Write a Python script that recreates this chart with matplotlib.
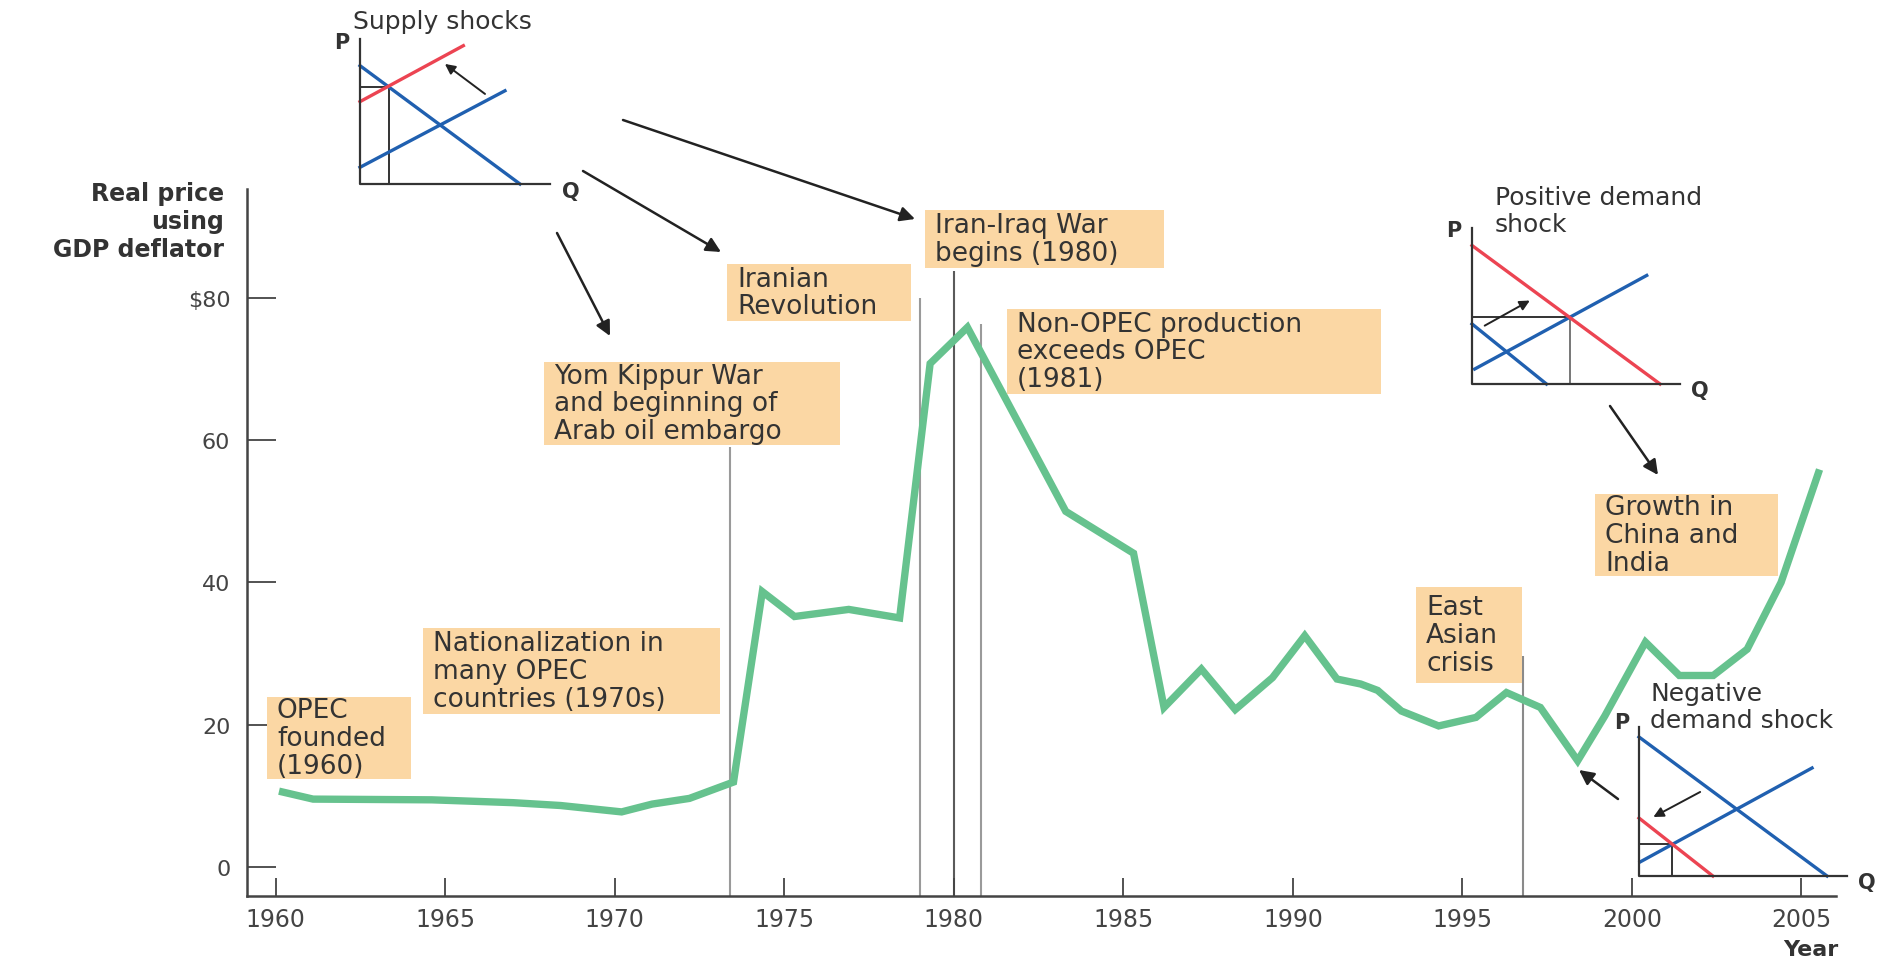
import matplotlib.pyplot as plt
from matplotlib.patches import Rectangle

plt.rcParams['font.family'] = ['DejaVu Sans']

W, H = 1900, 962

# real oil price (GDP deflator)
years = [1960.2, 1961.1, 1964.6, 1967.0, 1968.4, 1970.2, 1971.1, 1972.2, 1973.5,
         1974.35, 1975.3, 1976.9, 1978.4, 1979.3, 1980.4, 1983.3, 1985.3, 1986.2,
         1987.3, 1988.3, 1989.4, 1990.35, 1991.3, 1992.0, 1992.5, 1993.2, 1994.3,
         1995.4, 1996.3, 1997.3, 1998.4, 1999.2, 2000.4, 2001.4, 2002.4, 2003.4,
         2004.4, 2005.5]
price = [10.5, 9.5, 9.4, 9.0, 8.6, 7.7, 8.8, 9.6, 11.9,
         38.7, 35.2, 36.2, 35.0, 70.8, 75.9, 50.0, 44.1, 22.4,
         27.8, 22.1, 26.6, 32.5, 26.4, 25.7, 24.8, 21.9, 19.8,
         21.0, 24.5, 22.4, 14.9, 21.2, 31.6, 26.9, 26.9, 30.6,
         40.0, 55.4]

# event marker lines: year and how high each one reaches
event_years = [1973.4, 1979.0, 1980.0, 1980.8, 1996.8]
event_tops = [59.0, 80.0, 83.8, 76.4, 29.7]
event_colors = ['#9a9a9a', '#9a9a9a', '#5a5a5a', '#9a9a9a', '#8a8a8a']

xticks = [1960, 1965, 1970, 1975, 1980, 1985, 1990, 1995, 2000, 2005]
yticks = [0, 20, 40, 60, 80]
ytick_labels = ['0', '20', '40', '60', '$80']

note_texts = ['OPEC\nfounded\n(1960)',
              'Nationalization in\nmany OPEC\ncountries (1970s)',
              'Yom Kippur War\nand beginning of\nArab oil embargo',
              'Iranian\nRevolution',
              'Iran-Iraq War\nbegins (1980)',
              'Non-OPEC production\nexceeds OPEC\n(1981)',
              'East\nAsian\ncrisis',
              'Growth in\nChina and\nIndia']
# boxes in figure pixels: left, top, right, bottom
note_boxes = [(267, 698, 411, 780), (423, 629, 720, 715), (544, 363, 840, 446),
              (727, 265, 911, 322), (925, 211, 1164, 269), (1007, 310, 1381, 395),
              (1416, 588, 1522, 684), (1595, 495, 1778, 577)]

# schematic supply/demand sketches (u, v in 0..1 of each little diagram)
BLUE, RED = '#2060b0', '#ec4452'
supply_lines = [([0, 0.842], [0.816, 0], BLUE), ([0, 0.763], [0.115, 0.643], BLUE),
                ([0, 0.544], [0.568, 0.954], RED)]
supply_eq = (0.154, 0.672)
supply_arrow = ((0.658, 0.621), (0.447, 0.828))

posdem_lines = [([0, 0.358], [0.385, 0], BLUE), ([0.013, 0.84], [0.096, 0.696], BLUE),
                ([0, 0.904], [0.888, 0], RED)]
posdem_eq = (0.47, 0.428)
posdem_arrow = ((0.061, 0.374), (0.278, 0.535))

negdem_lines = [([0, 0.904], [0.933, 0], BLUE), ([0.005, 0.832], [0.094, 0.725], BLUE),
                ([0, 0.355], [0.389, 0], RED)]
negdem_eq = (0.157, 0.217)
negdem_arrow = ((0.294, 0.564), (0.069, 0.396))

TXT = '#333333'
AX = '#444444'

fig = plt.figure(figsize=(W / 100, H / 100), dpi=100)
ax = fig.add_axes([247 / W, 1 - 896.6 / H, (1836 - 247) / W, (896.6 - 190) / H])
y_lo = -4.08
ax.set_xlim(1959.15, 2006.02)
ax.set_ylim(y_lo, 95.37)

ax.vlines(event_years, y_lo, event_tops, colors=event_colors, lw=1.5, zorder=1)
ax.plot(years, price, color='#66c28e', lw=5.3, solid_joinstyle='miter', zorder=3)

for s in ['top', 'right']:
    ax.spines[s].set_visible(False)
for s in ['left', 'bottom']:
    ax.spines[s].set_color(AX)
    ax.spines[s].set_linewidth(1.8)
ax.set_xticks(xticks)
ax.set_yticks(yticks)
ax.set_yticklabels(ytick_labels)
ax.tick_params(axis='y', direction='in', length=21, width=1.3, pad=12,
               labelsize=16, colors=AX)
ax.tick_params(axis='x', direction='in', length=13, width=1.3, pad=8,
               labelsize=17, colors=AX)

# overlay in pixel coordinates for notes, labels and arrows
over = fig.add_axes([0, 0, 1, 1], zorder=5)
over.set_xlim(0, W)
over.set_ylim(H, 0)
over.axis('off')

for txt, (x0, y0, x1, y1) in zip(note_texts, note_boxes):
    over.add_patch(Rectangle((x0, y0), x1 - x0, y1 - y0, facecolor='#fbd7a4',
                             edgecolor='none'))
    over.text(x0 + 10, (y0 + y1) / 2, txt, ha='left', va='center', fontsize=19,
              color=TXT, linespacing=1.08)

over.text(224, 222, 'Real price\nusing\nGDP deflator', ha='right', va='center',
          multialignment='right', fontsize=17, fontweight='bold', color=TXT,
          linespacing=1.2)
over.text(1811, 950, 'Year', ha='center', va='center', fontsize=16,
          fontweight='bold', color=TXT)

big_arrows = [((557, 234), (610, 337)), ((583, 172), (721, 253)),
              ((623, 121), (915, 220)), ((1610, 407), (1658, 476)),
              ((1618, 800), (1579, 771))]
for start, end in big_arrows:
    over.annotate('', xy=end, xytext=start,
                  arrowprops=dict(arrowstyle='-|>', color='#222222', lw=1.8,
                                  mutation_scale=22, shrinkA=0, shrinkB=0))


def sketch(rect_px, lines, eq, arrow, title, title_uv, p_uv, q_uv, vcol):
    x0, y0, x1, y1 = rect_px
    a = fig.add_axes([x0 / W, 1 - y1 / H, (x1 - x0) / W, (y1 - y0) / H], zorder=6)
    a.set_xlim(0, 1)
    a.set_ylim(0, 1)
    a.axis('off')
    ue, ve = eq
    a.plot([0, ue], [ve, ve], color='#333333', lw=1.4, clip_on=False)
    a.plot([ue, ue], [0, ve], color=vcol, lw=1.4, clip_on=False)
    for u, v, c in lines:
        a.plot(u, v, color=c, lw=2.4, clip_on=False)
    a.plot([0, 0, 1], [1, 0, 0], color='#333333', lw=1.6, clip_on=False)
    a.annotate('', xy=arrow[1], xytext=arrow[0],
               arrowprops=dict(arrowstyle='-|>', color='#222222', lw=1.4,
                               mutation_scale=15, shrinkA=0, shrinkB=0))
    a.text(p_uv[0], p_uv[1], 'P', ha='center', va='center', fontsize=15,
           fontweight='bold', color=TXT)
    a.text(q_uv[0], q_uv[1], 'Q', ha='center', va='center', fontsize=15,
           fontweight='bold', color=TXT)
    a.text(title_uv[0], title_uv[1], title, ha='left', va='center', fontsize=18,
           color=TXT, linespacing=1.17)


sketch((360, 40, 550, 185), supply_lines, supply_eq, supply_arrow, 'Supply shocks',
       (-0.037, 1.126), (-0.095, 0.98), (1.11, -0.05), '#333333')
sketch((1472, 229, 1680, 385), posdem_lines, posdem_eq, posdem_arrow,
       'Positive demand\nshock', (0.109, 1.11), (-0.088, 0.985), (1.096, -0.037),
       '#777777')
sketch((1639, 728, 1847, 877), negdem_lines, negdem_eq, negdem_arrow,
       'Negative\ndemand shock', (0.053, 1.14), (-0.082, 1.036), (1.093, -0.038),
       '#333333')

fig.savefig('out.png', dpi=100)
